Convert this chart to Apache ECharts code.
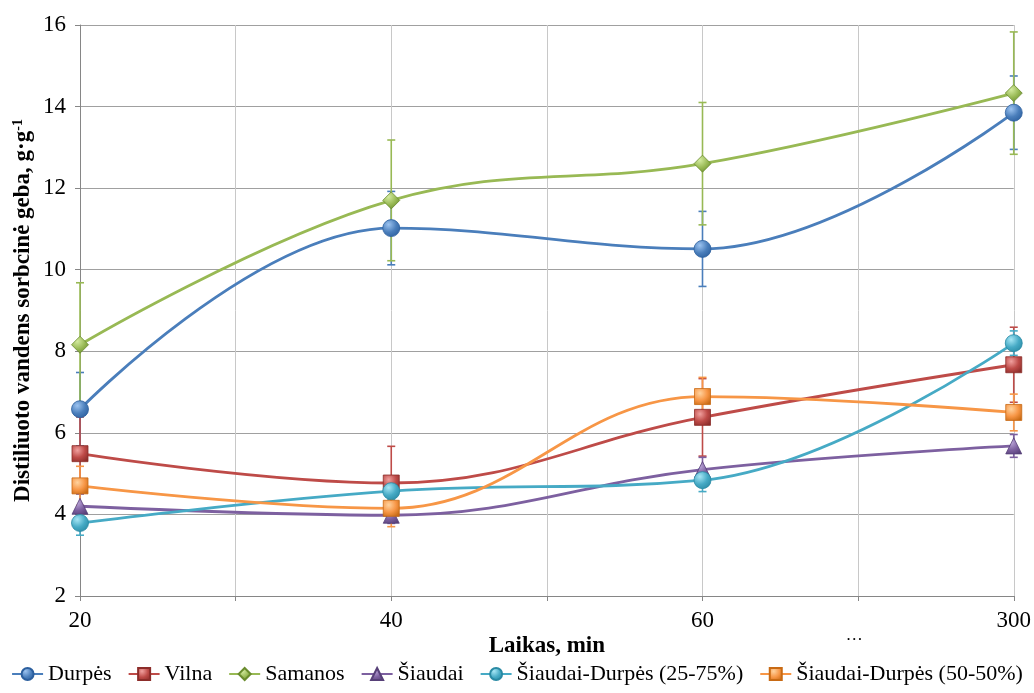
<!DOCTYPE html>
<html><head><meta charset="utf-8">
<script src="https://cdn.jsdelivr.net/npm/echarts@6/dist/echarts.min.js"></script>
<style>html,body{margin:0;padding:0;background:#fff}#c{width:1034px;height:693px}</style>
</head><body><div id="c"></div>
<script>
// Axis slots (time, min); blank slots are unlabeled grid positions
const xLabels = ['20', '', '40', '', '60', '…', '300'];
const times = ['20', '40', '60', '300'];
const yTicks = [2, 4, 6, 8, 10, 12, 14, 16];

// Series values at 20, 40, 60, 300 min
const durpes = [6.58, 11.02, 10.51, 13.85];
const vilna = [5.49, 4.77, 6.38, 7.67];
const samanos = [8.16, 11.70, 12.60, 14.33];
const siaudai = [4.20, 3.98, 5.10, 5.68];
const sd2575 = [3.79, 4.57, 4.84, 8.20];
const sd5050 = [4.70, 4.15, 6.89, 6.50];

// Error (± half-width)
const errDurpes = [0.90, 0.90, 0.92, 0.90];
const errVilna = [0.90, 0.90, 0.95, 0.92];
const errSamanos = [1.52, 1.48, 1.50, 1.50];
const errSiaudai = [0.30, 0.20, 0.30, 0.28];
const errSd2575 = [0.30, 0.20, 0.28, 0.30];
const errSd5050 = [0.48, 0.45, 0.47, 0.45];

const names = ['Durpės', 'Vilna', 'Samanos', 'Šiaudai', 'Šiaudai-Durpės (25-75%)', 'Šiaudai-Durpės (50-50%)'];
const values = [durpes, vilna, samanos, siaudai, sd2575, sd5050];
const errors = [errDurpes, errVilna, errSamanos, errSiaudai, errSd2575, errSd5050];
const colors = ['#4A7EBB', '#BE4B48', '#98B954', '#7D60A0', '#46AAC5', '#F79646'];
const light = ['#9CC3F0', '#F0A09E', '#D4EBA0', '#BBA6D8', '#A6E6F5', '#FFD29E'];
const dark = ['#2C5F9E', '#8C2D2A', '#6A8C2E', '#574078', '#2A8AA4', '#C86A14'];
const symbols = ['circle', 'rect', 'diamond', 'triangle', 'circle', 'rect'];
const sizes = [17, 16, 17, 16, 17, 16];

const font = '"Liberation Serif", "Times New Roman", serif';

function idx(t) { return xLabels.indexOf(t); }

const series = [];
values.forEach((vals, s) => {
  const c = colors[s];
  series.push({
    type: 'custom',
    name: names[s] + ' err',
    z: 1,
    silent: true,
    data: times.map((t, i) => [idx(t), vals[i] - errors[s][i], vals[i] + errors[s][i]]),
    encode: { x: 0, y: [1, 2] },
    renderItem: function (params, api) {
      const x = api.value(0);
      const lo = api.coord([x, api.value(1)]);
      const hi = api.coord([x, api.value(2)]);
      const hw = 4;
      const st = { stroke: c, lineWidth: 1.6 };
      return {
        type: 'group', children: [
          { type: 'line', shape: { x1: lo[0], y1: lo[1], x2: hi[0], y2: hi[1] }, style: st },
          { type: 'line', shape: { x1: lo[0] - hw, y1: lo[1], x2: lo[0] + hw, y2: lo[1] }, style: st },
          { type: 'line', shape: { x1: hi[0] - hw, y1: hi[1], x2: hi[0] + hw, y2: hi[1] }, style: st }
        ]
      };
    }
  });
});
values.forEach((vals, s) => {
  series.push({
    type: 'line',
    name: names[s],
    z: 3 + s,
    data: times.map((t, i) => [idx(t), vals[i]]),
    smooth: 0.4,
    symbol: symbols[s],
    symbolSize: sizes[s],
    showAllSymbol: true,
    lineStyle: { color: colors[s], width: 2.8 },
    itemStyle: {
      color: {
        type: 'radial', x: 0.35, y: 0.3, r: 0.8,
        colorStops: [{ offset: 0, color: light[s] }, { offset: 0.55, color: colors[s] }, { offset: 1, color: dark[s] }]
      },
      borderColor: dark[s], borderWidth: 0.8
    },
    emphasis: { disabled: true }
  });
});

const chart = echarts.init(document.getElementById('c'));
chart.setOption({
  animation: false,
  backgroundColor: '#fff',
  grid: { left: 80, right: 19, top: 25, bottom: 97, containLabel: false },
  legend: {
    data: names.map((n) => ({ name: n })),
    bottom: 3, left: 'center',
    itemWidth: 31, itemHeight: 15, itemGap: 16,
    textStyle: { fontFamily: font, fontSize: 22, color: '#000' }
  },
  xAxis: {
    type: 'value',
    min: 0, max: xLabels.length - 1, interval: 1,
    name: 'Laikas, min',
    nameLocation: 'middle',
    nameGap: 39,
    nameMoveOverlap: false,
    nameTextStyle: { fontFamily: font, fontSize: 23, fontWeight: 'bold', color: '#000' },
    axisLine: { lineStyle: { color: '#868686', width: 1 } },
    axisTick: { show: true, length: 5, lineStyle: { color: '#868686' } },
    axisLabel: {
      margin: 13, showMinLabel: true, showMaxLabel: true,
      fontFamily: font, fontSize: 23, color: '#000',
      formatter: function (v) { const l = xLabels[Math.round(v)] || ''; return l === '…' ? '{d|…}' : l; },
      rich: { d: { fontFamily: font, fontSize: 17, padding: [18, 8, 0, 0], color: '#000' } }
    },
    splitLine: { show: true, lineStyle: { color: '#C8C8C8', width: 1 } }
  },
  yAxis: {
    type: 'value',
    min: 2, max: 16, interval: 2,
    name: 'Distiliuoto vandens sorbcinė geba, g·g{sup|-1}',
    nameLocation: 'middle',
    nameGap: 45,
    nameMoveOverlap: false,
    nameTextStyle: {
      fontFamily: font, fontSize: 23, fontWeight: 'bold', color: '#000',
      rich: { sup: { fontFamily: font, fontSize: 14, fontWeight: 'bold', color: '#000', verticalAlign: 'top', padding: [0, 0, 10, 0] } }
    },
    axisLine: { show: true, lineStyle: { color: '#868686', width: 1 } },
    axisTick: { show: true, length: 5, lineStyle: { color: '#868686' } },
    axisLabel: { margin: 14, fontFamily: font, fontSize: 23, color: '#000',
      formatter: function (v) { return yTicks.indexOf(v) >= 0 ? String(v) : ''; } },
    splitLine: { show: true, lineStyle: { color: '#A0A0A0', width: 1 } }
  },
  series: series
});
</script>
</body></html>
